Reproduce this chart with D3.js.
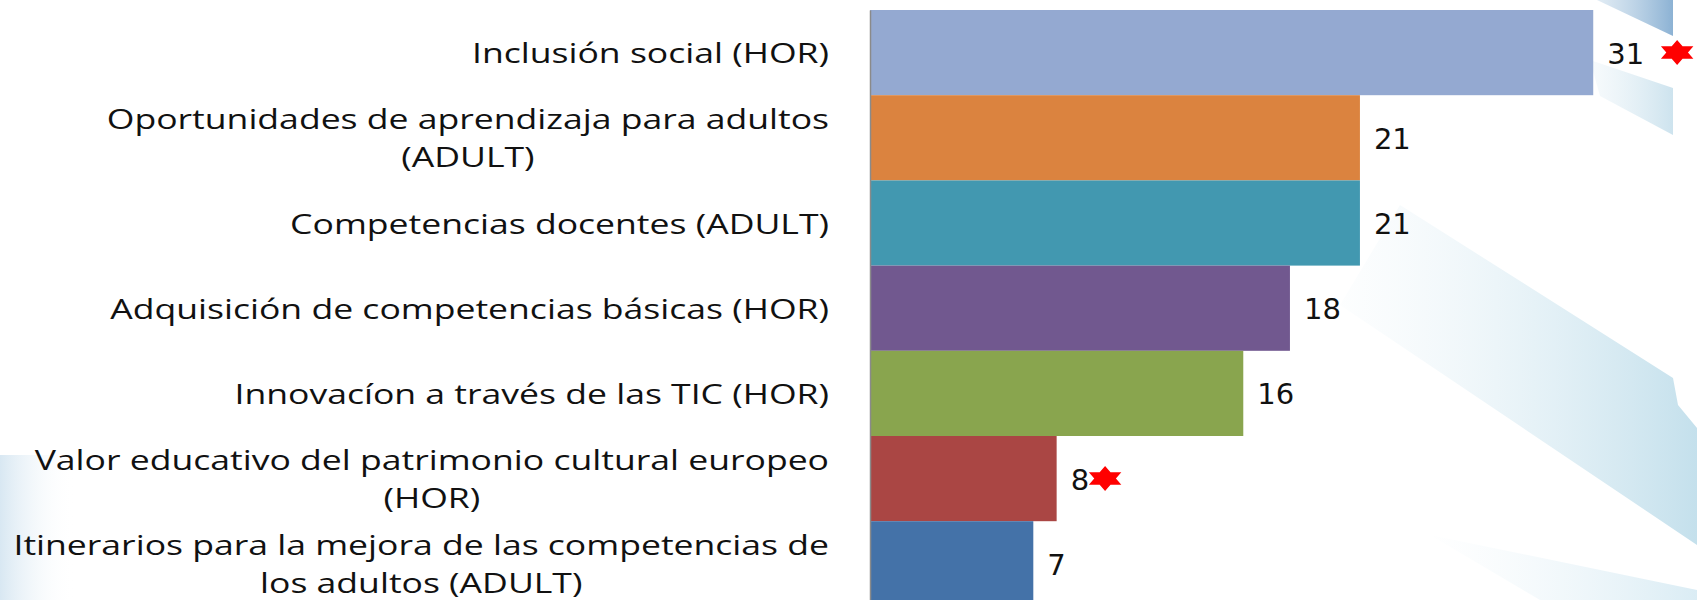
<!DOCTYPE html>
<html>
<head>
<meta charset="utf-8">
<script src="https://cdnjs.cloudflare.com/ajax/libs/d3/7.8.5/d3.min.js"></script>
<style>
  body { margin: 0; background: #fff; overflow: hidden; }
  svg { display: block; }
</style>
</head>
<body>
<div id="chart"></div>
<script>
// data, top to bottom
var categories = [
  "Inclusión social (HOR)",
  "Oportunidades de aprendizaja para adultos\n(ADULT)",
  "Competencias docentes (ADULT)",
  "Adquisición de competencias básicas (HOR)",
  "Innovacíon a través de las TIC (HOR)",
  "Valor educativo del patrimonio cultural europeo\n(HOR)",
  "Itinerarios para la mejora de las competencias de\nlos adultos (ADULT)"
];
var values = [31, 21, 21, 18, 16, 8, 7];
var flagged = [true, false, false, false, false, true, false];

(function makeChart() {
  var svgWidth = 1697, svgHeight = 600;
  var margin = {top: 10, left: 870};
  var bandH = 85.2;
  var barColors = ['#94a9d1', '#db833f', '#4298b0', '#71588f', '#89a54e', '#aa4644', '#4472a8'];
  var starGap = {0: 33, 5: 16};

  var svg = d3.select('#chart').append('svg')
    .attr('width', svgWidth)
    .attr('height', svgHeight);

  // faint slide background swooshes
  var defs = svg.append('defs');
  function grad(id, x1, x2, c1, c2, o1, o2) {
    var g = defs.append('linearGradient').attr('id', id)
      .attr('gradientUnits', 'userSpaceOnUse')
      .attr('x1', x1).attr('x2', x2).attr('y1', 0).attr('y2', 0);
    g.append('stop').attr('offset', 0).attr('stop-color', c1).attr('stop-opacity', o1);
    g.append('stop').attr('offset', 1).attr('stop-color', c2).attr('stop-opacity', o2);
  }
  grad('gMain', 1340, 1697, '#e8f3f8', '#c4e0ec', 0.1, 1);
  grad('gTop', 1590, 1673, '#d6e5f0', '#8cb2d4', 0.6, 1);
  grad('gMid', 1590, 1673, '#e5f0f6', '#cde3ee', 0.3, 1);
  grad('gLeft', 0, 75, '#d4e5f1', '#ffffff', 0.9, 0);
  grad('gBot', 1420, 1697, '#eef6fa', '#d6eaf3', 0, 0.9);

  var bg = svg.append('g').attr('class', 'background');
  var poly = function(pts) { return 'M' + pts.map(function(p) { return p.join(','); }).join('L') + 'Z'; };
  bg.append('path').attr('d', poly([[1400, 205], [1673, 378], [1678, 405], [1697, 428], [1697, 545], [1340, 305]]))
    .attr('fill', 'url(#gMain)');
  bg.append('path').attr('d', poly([[1597, 0], [1673, 0], [1673, 36]])).attr('fill', 'url(#gTop)');
  bg.append('path').attr('d', poly([[1590, 60], [1673, 88], [1673, 135], [1600, 96]])).attr('fill', 'url(#gMid)');
  bg.append('path').attr('d', poly([[1430, 535], [1697, 590], [1697, 600], [1540, 600]])).attr('fill', 'url(#gBot)');
  bg.append('rect').attr('x', 0).attr('y', 455).attr('width', 75).attr('height', 145).attr('fill', 'url(#gLeft)');

  var x = d3.scaleLinear()
    .domain([0, 35])
    .range([margin.left, margin.left + 35 * 23.33]);

  var y = d3.scaleBand()
    .domain(d3.range(categories.length))
    .range([margin.top, margin.top + bandH * categories.length])
    .padding(0);

  var chart = svg.append('g');

  chart.selectAll('rect.bar')
    .data(values)
    .enter().append('rect')
    .attr('class', 'bar')
    .attr('x', x(0))
    .attr('y', function(d, i) { return y(i); })
    .attr('width', function(d) { return x(d) - x(0); })
    .attr('height', y.bandwidth())
    .attr('fill', function(d, i) { return barColors[i]; });

  chart.append('g')
    .attr('transform', 'translate(' + x(0) + ',0)')
    .call(d3.axisLeft(y).tickSize(0).tickSizeOuter(0).tickFormat(''))
    .call(function(g) {
      g.select('.domain').attr('stroke', '#8a8a8a').attr('stroke-width', 1.5);
    });

  // category labels (slide text is stretched horizontally)
  var labels = chart.selectAll('g.label')
    .data(categories)
    .enter().append('g')
    .attr('class', 'label')
    .attr('transform', function(d, i) {
      return 'translate(829,' + (y(i) + y.bandwidth() / 2) + ') scale(1.27,1)';
    });

  labels.each(function(d) {
    var g = d3.select(this);
    var lines = d.split('\n');
    var texts = lines.map(function(line, j) {
      return g.append('text')
        .attr('y', 10.5 + (j - (lines.length - 1) / 2) * 38)
        .attr('font-family', "'Open Sans', sans-serif")
        .attr('font-size', 28)
        .attr('fill', '#111')
        .text(line);
    });
    var w = d3.max(texts, function(t) { return t.node().getComputedTextLength(); });
    texts.forEach(function(t) {
      t.attr('text-anchor', 'middle').attr('x', -w / 2);
    });
  });

  var valueLabels = chart.selectAll('text.value')
    .data(values)
    .enter().append('text')
    .attr('class', 'value')
    .attr('x', function(d) { return x(d) + 14; })
    .attr('y', function(d, i) { return y(i) + y.bandwidth() / 2 + 11; })
    .attr('font-family', "'DejaVu Sans', sans-serif")
    .attr('font-size', 29)
    .attr('fill', '#111')
    .text(function(d) { return d; });

  // red six-pointed stars
  var R = 12.5;
  var starPts = d3.range(12).map(function(k) {
    var a = -Math.PI / 2 + k * Math.PI / 6;
    var r = k % 2 ? R / Math.sqrt(3) : R;
    return [r * Math.cos(a), r * Math.sin(a)];
  });
  var starPath = d3.line()(starPts) + 'Z';

  valueLabels.each(function(d, i) {
    if (!flagged[i]) return;
    var t = d3.select(this);
    var end = +t.attr('x') + this.getComputedTextLength();
    chart.append('path')
      .attr('d', starPath)
      .attr('fill', '#ff0000')
      .attr('transform', 'translate(' + (end + starGap[i]) + ',' + (y(i) + y.bandwidth() / 2) + ') scale(1.5,1)');
  });
})();
</script>
</body>
</html>
